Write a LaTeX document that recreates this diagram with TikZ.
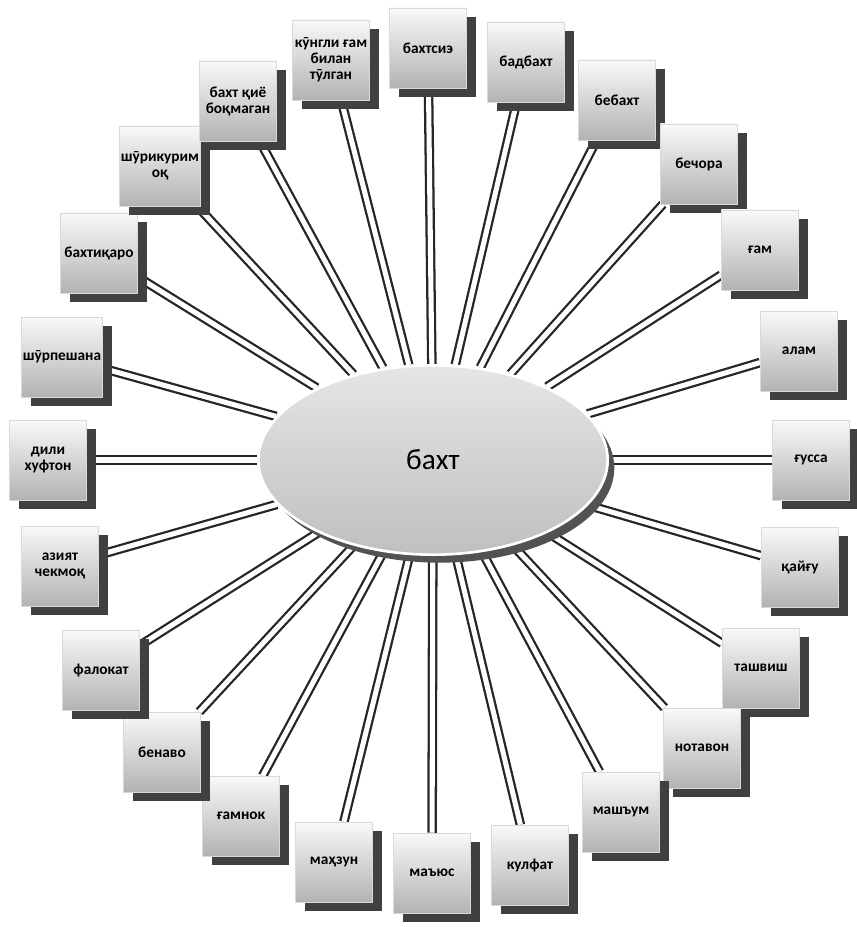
\documentclass[tikz,border=0pt]{standalone}
\usepackage{fontspec}
\setmainfont{Carlito}
\usetikzlibrary{shapes.geometric,shadows,backgrounds}

\begin{document}
\begin{tikzpicture}[
      x=0.75pt,
      y=-0.75pt,
      every node/.style={font=\bfseries\fontsize{11.5}{12}\selectfont},
      word/.style={rectangle, minimum width=58pt, minimum height=60pt,
        inner sep=1pt, align=center, draw=gray!30, line width=0.4pt,
        top color=gray!5, bottom color=gray!60,
        drop shadow={shadow xshift=7pt, shadow yshift=-7pt, fill=black!75, opacity=1}},
      hub/.style={ellipse, minimum width=262pt, minimum height=142pt,
        draw=white, line width=2pt, top color=gray!20, bottom color=gray!50,
        drop shadow={shadow xshift=5pt, shadow yshift=-6pt, fill=black!68, opacity=1},
        font=\fontsize{22}{24}\selectfont},
      link/.style={draw=black!85, line width=1.7pt, double=white, double distance=3.8pt}
    ]

    % --- 1. 画面サイズ ---
    \useasboundingbox (0, 0) rectangle (856, 927);

    % --- 2. 中心の楕円 ---
    \node[hub] (baxt) at (433, 460) {бахт};

    % --- 3. 周りの語 (上から時計回り) ---
    \node[word] (w1)  at (428, 48)  {бахтсиэ};
    \node[word] (w2)  at (526, 62)  {бадбахт};
    \node[word] (w3)  at (617, 100) {бебахт};
    \node[word] (w4)  at (699, 164) {бечора};
    \node[word] (w5)  at (760, 250) {ғам};
    \node[word] (w6)  at (799, 351) {алам};
    \node[word] (w7)  at (811, 460) {ғусса};
    \node[word] (w8)  at (800, 567) {қайғу};
    \node[word] (w9)  at (761, 668) {ташвиш};
    \node[word] (w10) at (702, 748) {нотавон};
    \node[word] (w11) at (621, 812) {машъум};
    \node[word] (w12) at (530, 865) {кулфат};
    \node[word] (w13) at (432, 873) {маъюс};
    \node[word] (w14) at (334, 862) {маҳзун};
    \node[word] (w15) at (241, 816) {ғамнок};
    \node[word] (w16) at (162, 752) {бенаво};
    \node[word] (w17) at (101, 670) {фалокат};
    \node[word] (w18) at (60, 566)  {азият\\чекмоқ};
    \node[word] (w19) at (48, 460)  {дили\\хуфтон};
    \node[word] (w20) at (62, 357)  {шӯрпешана};
    \node[word] (w21) at (99, 253)  {бахтиқаро};
    \node[word] (w22) at (160, 166) {шӯрикурим\\оқ};
    \node[word] (w23) at (238, 101) {бахт қиё\\боқмаган};
    \node[word] (w24) at (331, 60)  {кӯнгли ғам\\билан\\тӯлган};

    % --- 4. 二重線 (背面に) ---
    \begin{pgfonlayer}{background}
      \draw[link] (baxt) -- (w1);
      \draw[link] (baxt) -- (w2);
      \draw[link] (baxt) -- (w3);
      \draw[link] (baxt) -- (w4);
      \draw[link] (baxt) -- (w5);
      \draw[link] (baxt) -- (w6);
      \draw[link] (baxt) -- (w7);
      \draw[link] (baxt) -- (w8);
      \draw[link] (baxt) -- (w9);
      \draw[link] (baxt) -- (w10);
      \draw[link] (baxt) -- (w11);
      \draw[link] (baxt) -- (w12);
      \draw[link] (baxt) -- (w13);
      \draw[link] (baxt) -- (w14);
      \draw[link] (baxt) -- (w15);
      \draw[link] (baxt) -- (w16);
      \draw[link] (baxt) -- (w17);
      \draw[link] (baxt) -- (w18);
      \draw[link] (baxt) -- (w19);
      \draw[link] (baxt) -- (w20);
      \draw[link] (baxt) -- (w21);
      \draw[link] (baxt) -- (w22);
      \draw[link] (baxt) -- (w23);
      \draw[link] (baxt) -- (w24);
    \end{pgfonlayer}

  \end{tikzpicture}
\end{document}
